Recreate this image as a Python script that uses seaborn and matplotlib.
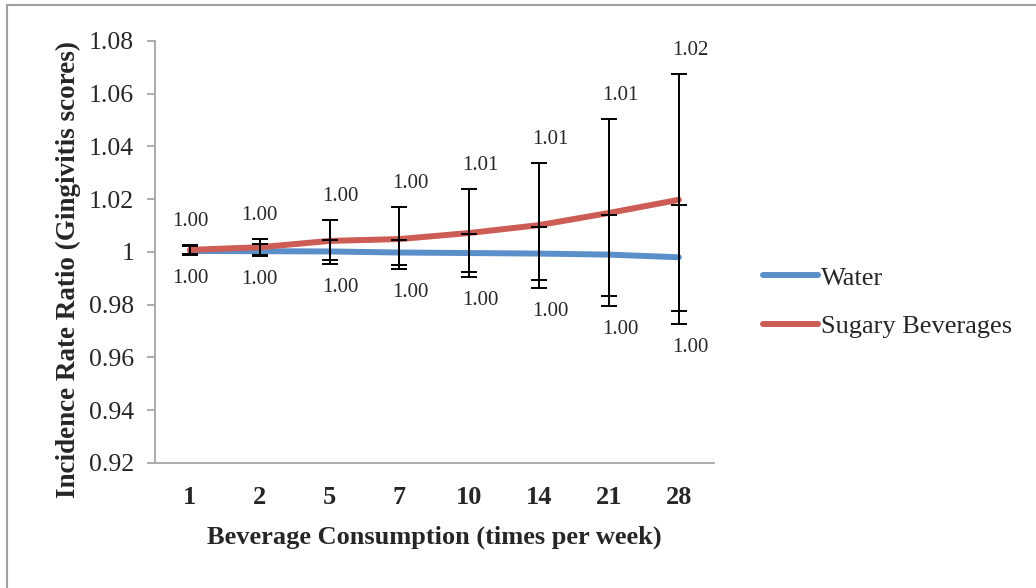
import numpy as np
import pandas as pd
import matplotlib
matplotlib.use("Agg")
import matplotlib.pyplot as plt
import seaborn as sns

# categories on the x axis (times per week)
consumption = ["1", "2", "5", "7", "10", "14", "21", "28"]

# incidence rate ratios
water = [1.0004, 1.0003, 1.0002, 0.9998, 0.9996, 0.9994, 0.9990, 0.9980]
sugary = [1.0008, 1.0018, 1.0042, 1.0049, 1.0072, 1.0102, 1.0148, 1.0198]

# confidence interval ends
water_lo = [0.9993, 0.9990, 0.9970, 0.9951, 0.9924, 0.9894, 0.9833, 0.9776]
water_hi = [1.0022, 1.0030, 1.0045, 1.0045, 1.0068, 1.0094, 1.0140, 1.0180]
sugary_lo = [0.9990, 0.9985, 0.9955, 0.9936, 0.9905, 0.9864, 0.9795, 0.9727]
sugary_hi = [1.0026, 1.0049, 1.0121, 1.0171, 1.0239, 1.0337, 1.0504, 1.0675]

df = pd.DataFrame({
    "consumption": consumption * 2,
    "irr": water + sugary,
    "series": ["Water"] * len(consumption) + ["Sugary Beverages"] * len(consumption),
})

sns.set_style("white")
plt.rcParams["font.family"] = ["Liberation Serif", "DejaVu Serif"]

fig = plt.figure(figsize=(10.36, 5.88), dpi=100)
ax = fig.add_axes([0.1496, 0.2126, 0.5394, 0.7177])

palette = {"Water": "#5B8FC9", "Sugary Beverages": "#CD5C55"}
sns.lineplot(data=df, x="consumption", y="irr", hue="series", palette=palette,
             linewidth=4.3, ax=ax, sort=False, zorder=2)

# error bars for both series
for vals, lo, hi in [(water, water_lo, water_hi), (sugary, sugary_lo, sugary_hi)]:
    v = np.array(vals)
    yerr = [v - np.array(lo), np.array(hi) - v]
    ax.errorbar(consumption, v, yerr=yerr, fmt="none", ecolor="black",
                elinewidth=1.4, capsize=5.8, capthick=1.4, zorder=3)

# data labels above the top cap and below the bottom cap
for i, c in enumerate(consumption):
    top = max(water_hi[i], sugary_hi[i])
    bot = min(water_lo[i], sugary_lo[i])
    dx = 0 if i < 2 else 8
    ax.annotate(f"{sugary[i]:.2f}", (i, top), xytext=(dx, 17), textcoords="offset points",
                ha="center", va="center", fontsize=15)
    ax.annotate(f"{water[i]:.2f}", (i, bot), xytext=(dx, -17), textcoords="offset points",
                ha="center", va="center", fontsize=15)

ax.set_ylim(0.92, 1.08)
ax.set_yticks(np.arange(0.92, 1.0801, 0.02))
ax.set_yticklabels(["0.92", "0.94", "0.96", "0.98", "1", "1.02", "1.04", "1.06", "1.08"])
ax.set_xlim(-0.5, len(consumption) - 0.5)

for s in ["top", "right"]:
    ax.spines[s].set_visible(False)
for s in ["left", "bottom"]:
    ax.spines[s].set_color("#A6A6A6")
    ax.spines[s].set_linewidth(1.3)

ax.tick_params(axis="y", which="major", left=True, length=6, width=1.3, color="#A6A6A6",
               direction="out", labelsize=18.5, pad=9)
ax.tick_params(axis="x", bottom=False, labelsize=19, pad=13)
for t in ax.get_xticklabels():
    t.set_fontweight("bold")

ax.set_xlabel("Beverage Consumption (times per week)", fontsize=19, fontweight="bold", labelpad=12)
ax.set_ylabel("Incidence Rate Ratio (Gingivitis scores)", fontsize=19.5, fontweight="bold")
ax.yaxis.set_label_coords(-0.132, 0.4585)

ax.legend(loc="center left", bbox_to_anchor=(1.046, 0.381), frameon=False, fontsize=19,
          handlelength=2.08, handletextpad=0.1, labelspacing=0.95)
for line in ax.get_legend().get_lines():
    line.set_linewidth(4.3)

# outer chart border
fig.patches.append(plt.Rectangle((7 / 1036, -0.1), 1.2, 1.1 - 5 / 588, transform=fig.transFigure,
                                 fill=False, edgecolor="#A0A0A0", linewidth=1.5))

fig.savefig("out.png", dpi=100)
